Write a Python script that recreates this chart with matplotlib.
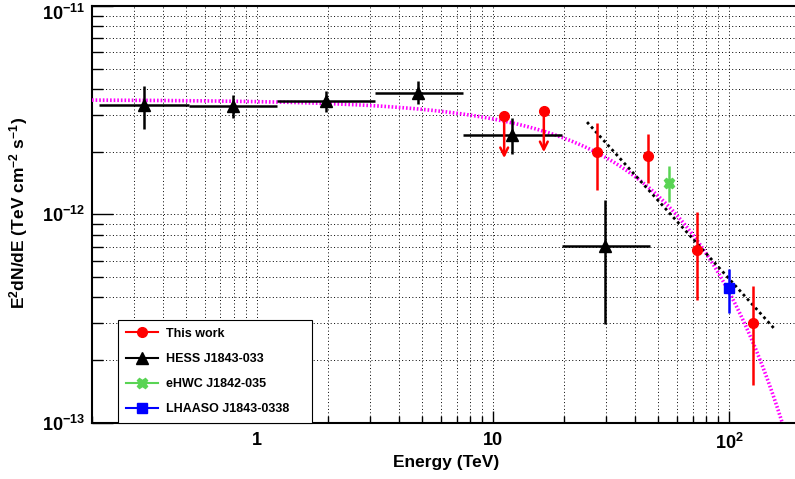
import numpy as np
import matplotlib
matplotlib.use("Agg")
import matplotlib.pyplot as plt
import matplotlib.transforms as mtransforms
from matplotlib.lines import Line2D
from matplotlib.ticker import FixedLocator, FixedFormatter, LogLocator, NullFormatter

plt.rcParams['font.family'] = ['Liberation Sans', 'DejaVu Sans']
plt.rcParams['font.weight'] = 'bold'
plt.rcParams['mathtext.fontset'] = 'custom'
plt.rcParams['mathtext.rm'] = 'Liberation Sans:bold'
plt.rcParams['mathtext.bf'] = 'Liberation Sans:bold'
plt.rcParams['mathtext.default'] = 'rm'

# HESS J1843-033 (energy bins, flux, flux bounds)
hess_e = [0.333, 0.788, 1.96, 4.81, 12.05, 29.9]
hess_elo = [0.215, 0.513, 1.215, 3.16, 7.45, 19.5]
hess_ehi = [0.513, 1.215, 3.16, 7.48, 19.6, 46.3]
hess_f = [3.33e-12, 3.30e-12, 3.49e-12, 3.83e-12, 2.40e-12, 7.05e-13]
hess_fhi = [4.12e-12, 3.73e-12, 3.92e-12, 4.35e-12, 2.90e-12, 1.17e-12]
hess_flo = [2.56e-12, 2.90e-12, 3.09e-12, 3.38e-12, 1.94e-12, 2.99e-13]

# This work: detections and upper limits
tw_e = [27.5, 45.4, 73.2, 125.9]
tw_f = [2.00e-12, 1.90e-12, 6.71e-13, 3.00e-13]
tw_fhi = [2.73e-12, 2.44e-12, 1.03e-12, 4.54e-13]
tw_flo = [1.31e-12, 1.42e-12, 3.89e-13, 1.51e-13]
ul_e = [11.14, 16.4]
ul_f = [2.95e-12, 3.15e-12]

# eHWC J1842-035
ehwc_e = [55.6]
ehwc_f = [1.42e-12]
ehwc_fhi = [1.70e-12]
ehwc_flo = [1.14e-12]

# LHAASO J1843-0338
lhaaso_e = [100.0]
lhaaso_f = [4.43e-13]
lhaaso_fhi = [5.48e-13]
lhaaso_flo = [3.38e-13]

# model curves (parameters)
ecpl_norm, ecpl_index, ecpl_cut = 3.55e-12, 2.0, 47.0   # magenta
pl_norm100, pl_index = 4.9e-13, 3.25                    # black dotted
pl_range = [25.0, 155.0]


def yerr(f, lo, hi):
    f, lo, hi = np.array(f), np.array(lo), np.array(hi)
    return [f - lo, hi - f]


fig = plt.figure(figsize=(7.95, 4.79), dpi=100)
ax = fig.add_axes([92 / 795, 1 - 422.7 / 479, 1 - 92 / 795, (422.7 - 6) / 479])
ax.set_xscale('log')
ax.set_yscale('log')
ax.set_xlim(0.2, 190)
ax.set_ylim(1e-13, 1e-11)

# grid on every tick
ax.grid(True, which='both', color='black', linestyle=(0, (1, 2.5)), linewidth=0.7)
ax.set_axisbelow(True)

# models
e_mod = np.logspace(np.log10(0.2), np.log10(190), 400)
ax.plot(e_mod, ecpl_norm * e_mod ** (2 - ecpl_index) * np.exp(-e_mod / ecpl_cut),
        color='#ff00ff', lw=2.6, linestyle=(0, (0.45, 0.55)), zorder=3)
e_pl = np.logspace(np.log10(pl_range[0]), np.log10(pl_range[1]), 50)
ax.plot(e_pl, pl_norm100 * (e_pl / 100.0) ** (2 - pl_index),
        color='black', lw=2.0, linestyle=(0, (1, 1.2)), zorder=4)

# HESS
he = np.array(hess_e)
ax.errorbar(hess_e, hess_f, yerr=yerr(hess_f, hess_flo, hess_fhi),
            xerr=[he - np.array(hess_elo), np.array(hess_ehi) - he],
            fmt='^', color='black', ms=8, elinewidth=1.8, capsize=0, zorder=5)

# this work
ax.errorbar(tw_e, tw_f, yerr=yerr(tw_f, tw_flo, tw_fhi), fmt='o', color='red',
            ms=7, elinewidth=1.8, capsize=0, zorder=6)
ax.plot(ul_e, ul_f, 'o', color='red', ms=7, zorder=6)
for e, f in zip(ul_e, ul_f):
    ax.annotate('', xy=(e, f * 10 ** -0.2), xytext=(e, f),
                arrowprops=dict(arrowstyle='->', color='red', lw=1.8,
                                mutation_scale=14, shrinkA=0, shrinkB=0), zorder=6)

# eHWC
ax.errorbar(ehwc_e, ehwc_f, yerr=yerr(ehwc_f, ehwc_flo, ehwc_fhi), fmt='X',
            color='#59d454', ms=7.5, elinewidth=1.8, capsize=0, zorder=6)

# LHAASO
ax.errorbar(lhaaso_e, lhaaso_f, yerr=yerr(lhaaso_f, lhaaso_flo, lhaaso_fhi), fmt='s',
            color='blue', ms=6.5, elinewidth=1.8, capsize=0, zorder=6)

# axes style
ax.spines['right'].set_visible(False)
for s in ['left', 'bottom', 'top']:
    ax.spines[s].set_linewidth(1.5)

ax.xaxis.set_major_locator(FixedLocator([1, 10, 100]))
ax.xaxis.set_major_formatter(FixedFormatter(['1', '10', r'$10^{2}$']))
ax.xaxis.set_minor_locator(LogLocator(base=10, subs=np.arange(2, 10)))
ax.xaxis.set_minor_formatter(NullFormatter())
ax.yaxis.set_major_locator(FixedLocator([1e-13, 1e-12, 1e-11]))
ax.yaxis.set_major_formatter(FixedFormatter([r'$10^{-13}$', r'$10^{-12}$', r'$10^{-11}$']))
ax.yaxis.set_minor_locator(LogLocator(base=10, subs=np.arange(2, 10)))
ax.yaxis.set_minor_formatter(NullFormatter())

ax.tick_params(axis='both', which='both', direction='in', top=False, right=False,
               labelsize=13, width=1.0)
ax.tick_params(axis='y', which='major', length=15, pad=5)
ax.tick_params(axis='y', which='minor', length=8)
ax.tick_params(axis='x', which='major', length=9, pad=7)
ax.tick_params(axis='x', which='minor', length=5)

# keep the top tick label inside the figure
top_lab = ax.get_yticklabels()[-1]
top_lab.set_transform(top_lab.get_transform() +
                      mtransforms.ScaledTranslation(0, -4 / 72, fig.dpi_scale_trans))

fig.text(446 / 795, 1 - 462 / 479, 'Energy (TeV)', ha='center', va='center',
         fontsize=12.5, fontweight='bold')
fig.text(19 / 795, 1 - 213 / 479, r'E$^{2}$dN/dE (TeV cm$^{-2}$ s$^{-1}$)', ha='center',
         va='center', rotation=90, fontsize=12.5, fontweight='bold')

handles = [
    Line2D([], [], color='red', marker='o', ms=7, lw=1.5),
    Line2D([], [], color='black', marker='^', ms=8, lw=1.5),
    Line2D([], [], color='#59d454', marker='X', ms=7.5, lw=1.5),
    Line2D([], [], color='blue', marker='s', ms=6.5, lw=1.5),
]
labels = ['This work', 'HESS J1843-033', 'eHWC J1842-035', 'LHAASO J1843-0338']
leg = ax.legend(handles, labels, loc='lower left',
                bbox_to_anchor=(118 / 795, 1 - 422.7 / 479, 194 / 795, 104 / 479),
                bbox_transform=fig.transFigure, mode='expand', fancybox=False,
                framealpha=1, edgecolor='black', borderpad=0.6, labelspacing=1.05,
                handlelength=2.6, handletextpad=0.6, prop={'size': 9, 'weight': 'bold'},
                borderaxespad=0)
leg.get_frame().set_linewidth(0.8)
leg.set_zorder(10)

fig.savefig('out.png', dpi=100)
